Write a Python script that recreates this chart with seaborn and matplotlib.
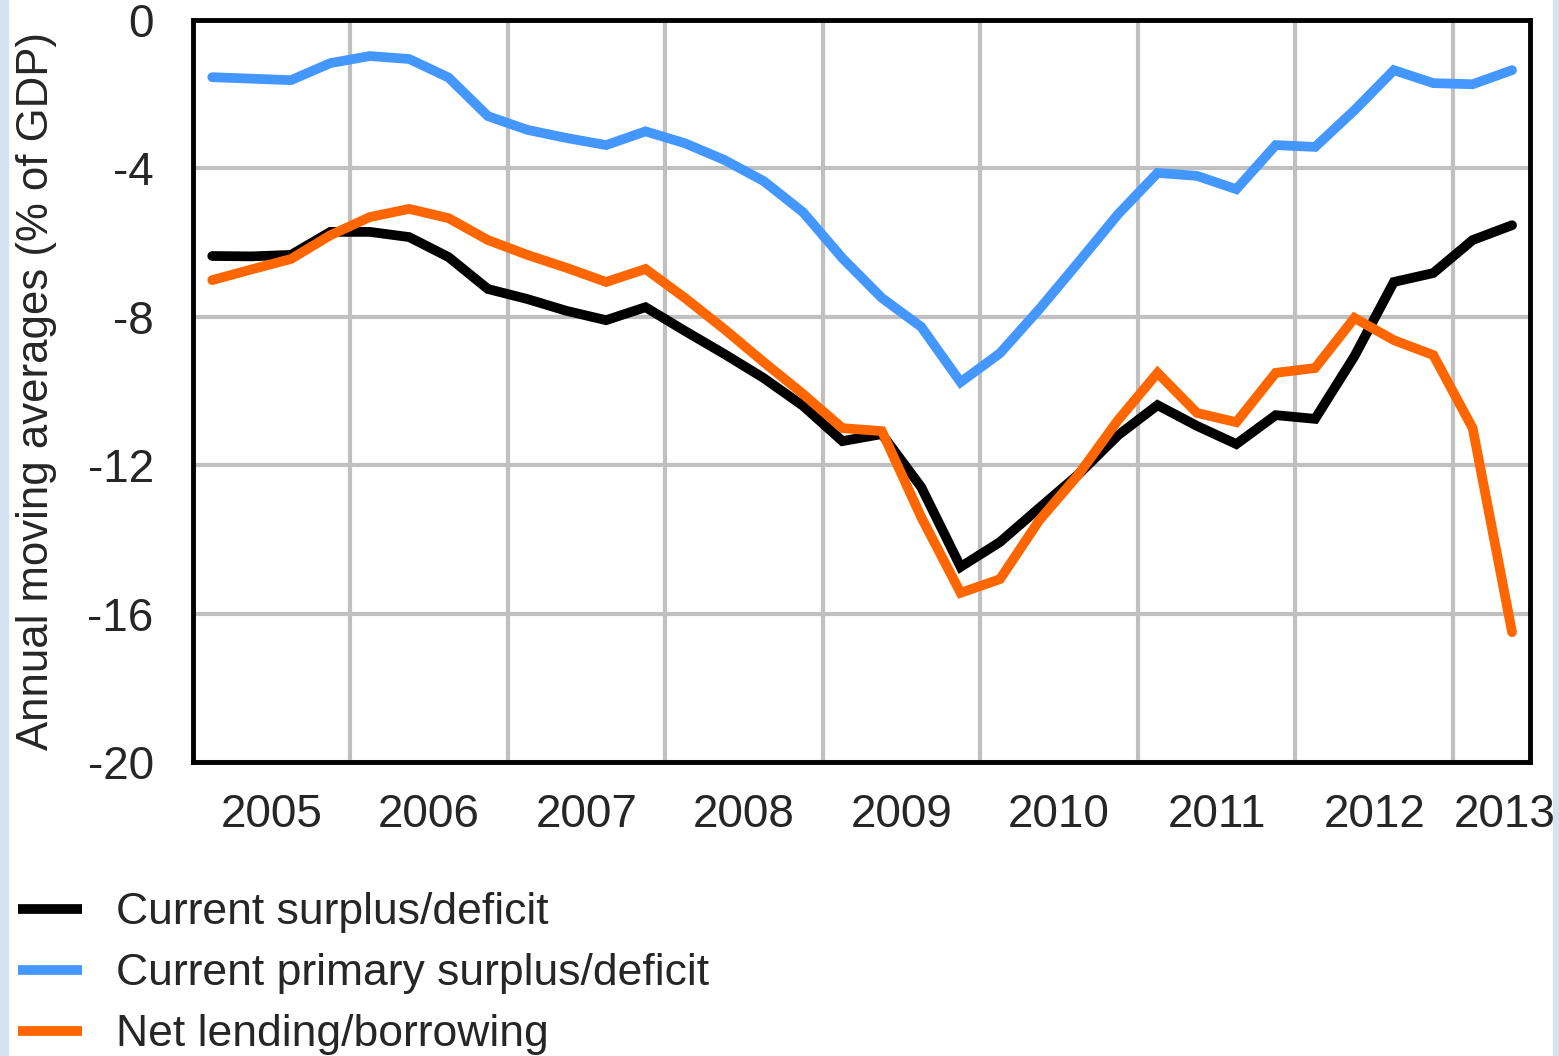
import pandas as pd
import numpy as np
import matplotlib
matplotlib.use("Agg")
import matplotlib.pyplot as plt
import seaborn as sns

# quarterly data, 2005Q1 .. 2013Q2 (annual moving averages, % of GDP)
quarters = pd.period_range("2005Q1", "2013Q2", freq="Q")

current_balance = [-6.36, -6.37, -6.33, -5.71, -5.71, -5.85, -6.39, -7.25,
                   -7.52, -7.84, -8.09, -7.74, -8.38, -9.00, -9.65, -10.40,
                   -11.35, -11.16, -12.59, -14.74, -14.07, -13.15, -12.24, -11.19,
                   -10.38, -10.94, -11.43, -10.65, -10.75, -9.06, -7.06, -6.82,
                   -5.93, -5.53]
primary_balance = [-1.54, -1.58, -1.62, -1.16, -0.97, -1.05, -1.55, -2.59,
                   -2.96, -3.18, -3.37, -3.00, -3.32, -3.77, -4.34, -5.18,
                   -6.42, -7.49, -8.27, -9.76, -8.98, -7.79, -6.52, -5.23,
                   -4.12, -4.20, -4.56, -3.37, -3.42, -2.43, -1.35, -1.70,
                   -1.73, -1.35]
net_lending = [-7.01, -6.72, -6.44, -5.80, -5.31, -5.09, -5.34, -5.93,
               -6.33, -6.68, -7.06, -6.71, -7.49, -8.33, -9.22, -10.08,
               -11.00, -11.08, -13.40, -15.44, -15.07, -13.48, -12.24, -10.78,
               -9.51, -10.59, -10.84, -9.51, -9.38, -8.03, -8.63, -9.03,
               -11.00, -16.50]

series_names = ["Current surplus/deficit", "Current primary surplus/deficit",
                "Net lending/borrowing"]
colors = ["#000000", "#4397ff", "#ff6600"]
years = list(range(2005, 2014))
yticks = [0, -4, -8, -12, -16, -20]

# quarter midpoints as decimal years
xq = [q.year + (q.quarter - 0.5) / 4 for q in quarters]
df = pd.DataFrame({
    "date": xq * 3,
    "value": current_balance + primary_balance + net_lending,
    "series": sum([[n] * len(xq) for n in series_names], []),
})

sns.set_style("white")
plt.rcParams["font.family"] = ["Liberation Sans", "DejaVu Sans"]

fig = plt.figure(figsize=(15.59, 10.56), dpi=100)
fig.patch.set_facecolor("white")
ax = fig.add_axes([0.1235, 0.2784, 0.858, 0.7026])

sns.lineplot(data=df, x="date", y="value", hue="series", hue_order=series_names,
             palette=dict(zip(series_names, colors)), linewidth=7, ax=ax,
             legend=True)
for ln in ax.get_lines():
    ln.set_solid_capstyle("round")
    ln.set_solid_joinstyle("miter")

ax.set_xlim(2005, 2013.49)
ax.set_ylim(-20, 0)

# year boundaries: ticks + grid, labels in the middle of each year
ax.set_xticks(years[1:])
ax.set_xticklabels([])
label_pos = [y + 0.5 for y in years[:-1]] + [2013.33]
ax.set_xticks(label_pos, minor=True)
ax.set_xticklabels([str(y) for y in years], minor=True, fontsize=33)
ax.tick_params(axis="x", which="minor", length=0, pad=22)
ax.tick_params(axis="x", which="major", direction="in", length=13, width=2.5,
               color="black")

ax.set_yticks(yticks)
ax.set_yticklabels([str(v) for v in yticks], fontsize=33)
ax.tick_params(axis="y", direction="in", length=13, width=2.5, pad=28,
               color="black")

ax.grid(True, which="major", color="#c0c0c0", linewidth=3)
ax.set_axisbelow(True)
for sp in ax.spines.values():
    sp.set_visible(True)
    sp.set_color("black")
    sp.set_linewidth(3.5)

ax.set_xlabel("")
ax.set_ylabel("Annual moving averages (% of GDP)", fontsize=31.5)
ax.yaxis.set_label_coords(-0.101, 0.5)

handles, labels = ax.get_legend_handles_labels()
ax.get_legend().remove()
leg = fig.legend(handles, labels, loc="upper left", bbox_to_anchor=(0.0, 0.172),
                 frameon=False, fontsize=32, handlelength=1.45,
                 handletextpad=0.75, labelspacing=0.45, borderaxespad=0)
for h in leg.get_lines():
    h.set_linewidth(7)
    h.set_solid_capstyle("butt")

# light blue page strips on the edges
fig.patches.append(plt.Rectangle((0, 0), 0.005, 1, transform=fig.transFigure,
                                 color="#d6e1f2", zorder=-1))
fig.patches.append(plt.Rectangle((0.996, 0), 0.004, 1, transform=fig.transFigure,
                                 color="#d6e1f2", zorder=-1))

fig.savefig("out.png", dpi=100)
